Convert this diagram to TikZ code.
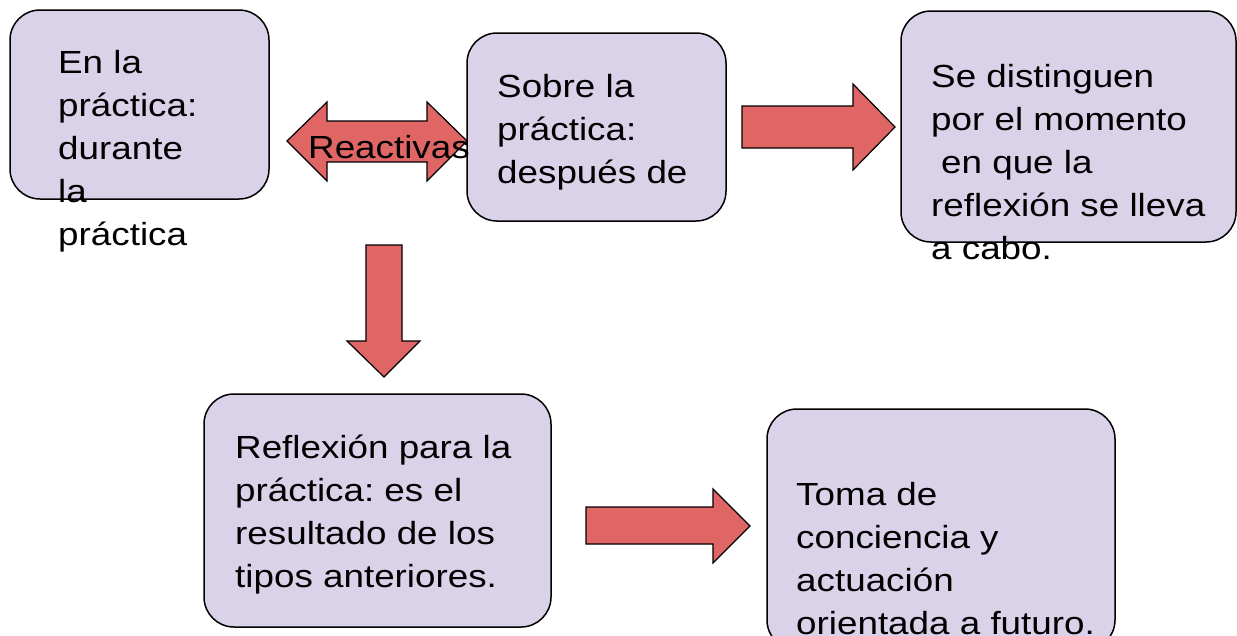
\documentclass[tikz,border=0pt]{standalone}
\usepackage{fontspec}
\setmainfont[FakeStretch=1.15]{Liberation Sans}
\frenchspacing
\definecolor{boxfill}{RGB}{217,210,233}
\definecolor{arrowred}{RGB}{224,102,102}
\tikzset{
  roundbox/.style={draw=black, line width=1.5pt, fill=boxfill, rounded corners=30pt},
  blockarrow/.style={draw=black, line width=1.2pt, fill=arrowred, line join=miter},
  txt/.style={anchor=base west, inner sep=0pt, align=left, font=\fontsize{32}{43}\selectfont}
}
\begin{document}
\begin{tikzpicture}[x=1pt,y=-1pt]
\useasboundingbox (0,0) rectangle (1237,635);
\clip (0,0) rectangle (1237,635);
% boxes
\draw[roundbox] (10,10) rectangle (269,199);
\draw[roundbox] (467,33) rectangle (726,221);
\draw[roundbox] (901,11) rectangle (1236,242);
\draw[roundbox] (204,394) rectangle (551,627);
\draw[roundbox] (767,409) rectangle (1115,650);
% block arrows
\draw[blockarrow] (287,141) -- (327,102) -- (327,121) -- (427,121) -- (427,102) -- (467,141)
  -- (427,181) -- (427,162) -- (327,162) -- (327,181) -- cycle;
\draw[blockarrow] (742,106) -- (853,106) -- (853,84) -- (895,127) -- (853,170) -- (853,148) -- (742,148) -- cycle;
\draw[blockarrow] (366,245) -- (402,245) -- (402,341) -- (420,341) -- (384,377) -- (347,341) -- (366,341) -- cycle;
\draw[blockarrow] (586,507) -- (713,507) -- (713,489) -- (750,526) -- (713,563) -- (713,544) -- (586,544) -- cycle;
% texts (anchor = baseline of the last line)
\node[txt] (ta) at (58,245) {En la\\práctica:\\durante\\la\\práctica};
\node[txt] (tr) at (308,158) {Reactivas};
\node[txt] (tb) at (497,183) {Sobre la\\práctica:\\después de};
\node[txt] (tc) at (931,259) {Se distinguen\\por el momento\\\hspace*{10pt}en que la\\reflexión se lleva\\a cabo.};
\node[txt] (td) at (235,587) {Reflexión para la\\práctica: es el\\resultado de los\\tipos anteriores.};
\node[txt] (te) at (796,634) {Toma de\\conciencia y\\actuación\\orientada a futuro.};
\end{tikzpicture}
\end{document}
